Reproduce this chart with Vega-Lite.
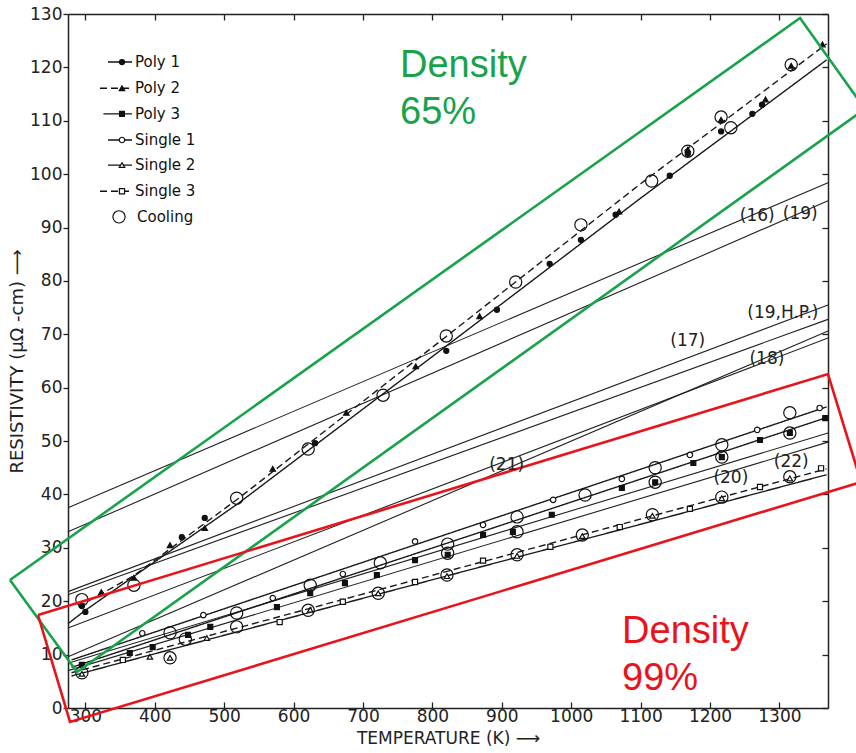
{
  "$schema": "https://vega.github.io/schema/vega-lite/v6.json",
  "width": 760,
  "height": 694,
  "autosize": {"type": "none"},
  "padding": {"left": 68, "top": 14, "right": 28, "bottom": 45},
  "background": "white",
  "config": {
    "view": {"stroke": null},
    "axis": {"grid": false, "domainColor": "#222", "tickColor": "#222", "labelColor": "#222", "titleColor": "#222", "domainWidth": 1.5, "tickWidth": 1.3, "labelFont": "DejaVu Sans", "titleFont": "DejaVu Sans", "titleFontWeight": "normal"}
  },
  "datasets": {
    "lit": [
      {"id": "16", "T": 275, "R": 37.5}, {"id": "16", "T": 1370, "R": 98.4},
      {"id": "19", "T": 275, "R": 33.0}, {"id": "19", "T": 1370, "R": 95.0},
      {"id": "19HP", "T": 275, "R": 21.8}, {"id": "19HP", "T": 1370, "R": 75.5},
      {"id": "17", "T": 275, "R": 21.2}, {"id": "17", "T": 1370, "R": 72.8},
      {"id": "18", "T": 275, "R": 15.0}, {"id": "18", "T": 1370, "R": 69.3},
      {"id": "21", "T": 275, "R": 9.6}, {"id": "21", "T": 1370, "R": 70.6},
      {"id": "20", "T": 275, "R": 8.4}, {"id": "20", "T": 1370, "R": 51.5},
      {"id": "22", "T": 275, "R": 7.0}, {"id": "22", "T": 1370, "R": 49.8}
    ],
    "fits": [
      {"s": "Poly 1", "T": 275, "R": 15.8}, {"s": "Poly 1", "T": 300, "R": 18.3}, {"s": "Poly 1", "T": 520, "R": 38.3}, {"s": "Poly 1", "T": 820, "R": 67.8}, {"s": "Poly 1", "T": 1100, "R": 95.5}, {"s": "Poly 1", "T": 1368, "R": 121.4},
      {"s": "Poly 2", "T": 290, "R": 19.0}, {"s": "Poly 2", "T": 370, "R": 24.8}, {"s": "Poly 2", "T": 520, "R": 39.2}, {"s": "Poly 2", "T": 820, "R": 69.6}, {"s": "Poly 2", "T": 1100, "R": 98.2}, {"s": "Poly 2", "T": 1368, "R": 124.4},
      {"s": "Poly 3", "T": 280, "R": 7.6}, {"s": "Poly 3", "T": 1368, "R": 54.4},
      {"s": "Single 1", "T": 280, "R": 9.0}, {"s": "Single 1", "T": 1368, "R": 56.4},
      {"s": "Single 2", "T": 280, "R": 6.0}, {"s": "Single 2", "T": 1368, "R": 43.7},
      {"s": "Single 3", "T": 280, "R": 6.6}, {"s": "Single 3", "T": 1368, "R": 44.8}
    ],
    "pts": [
      {"s": "Poly 1", "T": 295, "R": 19.1}, {"s": "Poly 1", "T": 300, "R": 18.0}, {"s": "Poly 1", "T": 439, "R": 32.0}, {"s": "Poly 1", "T": 472, "R": 35.6}, {"s": "Poly 1", "T": 631, "R": 49.6}, {"s": "Poly 1", "T": 820, "R": 66.9}, {"s": "Poly 1", "T": 893, "R": 74.6}, {"s": "Poly 1", "T": 969, "R": 83.2}, {"s": "Poly 1", "T": 1014, "R": 87.7}, {"s": "Poly 1", "T": 1064, "R": 92.4}, {"s": "Poly 1", "T": 1142, "R": 99.7}, {"s": "Poly 1", "T": 1168, "R": 103.8}, {"s": "Poly 1", "T": 1216, "R": 108.0}, {"s": "Poly 1", "T": 1261, "R": 111.3}, {"s": "Poly 1", "T": 1275, "R": 113.0},
      {"s": "Poly 2", "T": 323, "R": 21.7}, {"s": "Poly 2", "T": 370, "R": 24.4}, {"s": "Poly 2", "T": 422, "R": 30.5}, {"s": "Poly 2", "T": 472, "R": 33.7}, {"s": "Poly 2", "T": 570, "R": 44.8}, {"s": "Poly 2", "T": 676, "R": 55.3}, {"s": "Poly 2", "T": 776, "R": 64.0}, {"s": "Poly 2", "T": 868, "R": 73.4}, {"s": "Poly 2", "T": 1069, "R": 93.0}, {"s": "Poly 2", "T": 1168, "R": 104.6}, {"s": "Poly 2", "T": 1216, "R": 110.2}, {"s": "Poly 2", "T": 1280, "R": 114.0}, {"s": "Poly 2", "T": 1317, "R": 120.3}, {"s": "Poly 2", "T": 1362, "R": 124.3},
      {"s": "Poly 3", "T": 295, "R": 8.1}, {"s": "Poly 3", "T": 364, "R": 10.3}, {"s": "Poly 3", "T": 397, "R": 11.4}, {"s": "Poly 3", "T": 448, "R": 13.7}, {"s": "Poly 3", "T": 480, "R": 15.2}, {"s": "Poly 3", "T": 576, "R": 18.9}, {"s": "Poly 3", "T": 624, "R": 21.5}, {"s": "Poly 3", "T": 674, "R": 23.4}, {"s": "Poly 3", "T": 720, "R": 24.9}, {"s": "Poly 3", "T": 775, "R": 27.7}, {"s": "Poly 3", "T": 822, "R": 28.7}, {"s": "Poly 3", "T": 873, "R": 32.4}, {"s": "Poly 3", "T": 916, "R": 33.0}, {"s": "Poly 3", "T": 972, "R": 36.2}, {"s": "Poly 3", "T": 1073, "R": 41.2}, {"s": "Poly 3", "T": 1121, "R": 42.3}, {"s": "Poly 3", "T": 1176, "R": 45.9}, {"s": "Poly 3", "T": 1217, "R": 47.0}, {"s": "Poly 3", "T": 1272, "R": 50.2}, {"s": "Poly 3", "T": 1315, "R": 51.5}, {"s": "Poly 3", "T": 1366, "R": 54.3},
      {"s": "Single 1", "T": 382, "R": 14.0}, {"s": "Single 1", "T": 470, "R": 17.4}, {"s": "Single 1", "T": 570, "R": 20.6}, {"s": "Single 1", "T": 671, "R": 25.1}, {"s": "Single 1", "T": 775, "R": 31.2}, {"s": "Single 1", "T": 873, "R": 34.3}, {"s": "Single 1", "T": 974, "R": 39.0}, {"s": "Single 1", "T": 1073, "R": 42.9}, {"s": "Single 1", "T": 1171, "R": 47.4}, {"s": "Single 1", "T": 1268, "R": 52.1}, {"s": "Single 1", "T": 1358, "R": 56.2},
      {"s": "Single 2", "T": 295, "R": 6.4}, {"s": "Single 2", "T": 393, "R": 9.6}, {"s": "Single 2", "T": 422, "R": 9.4}, {"s": "Single 2", "T": 475, "R": 13.1}, {"s": "Single 2", "T": 624, "R": 18.4}, {"s": "Single 2", "T": 722, "R": 21.5}, {"s": "Single 2", "T": 821, "R": 24.7}, {"s": "Single 2", "T": 922, "R": 28.5}, {"s": "Single 2", "T": 1016, "R": 32.2}, {"s": "Single 2", "T": 1117, "R": 36.0}, {"s": "Single 2", "T": 1217, "R": 39.3}, {"s": "Single 2", "T": 1315, "R": 43.0},
      {"s": "Single 3", "T": 354, "R": 9.0}, {"s": "Single 3", "T": 580, "R": 16.1}, {"s": "Single 3", "T": 671, "R": 19.9}, {"s": "Single 3", "T": 775, "R": 23.6}, {"s": "Single 3", "T": 873, "R": 27.6}, {"s": "Single 3", "T": 970, "R": 30.2}, {"s": "Single 3", "T": 1070, "R": 33.9}, {"s": "Single 3", "T": 1171, "R": 37.3}, {"s": "Single 3", "T": 1272, "R": 41.4}, {"s": "Single 3", "T": 1360, "R": 44.9},
      {"s": "Cooling", "T": 295, "R": 20.3}, {"s": "Cooling", "T": 370, "R": 23.0}, {"s": "Cooling", "T": 518, "R": 39.3}, {"s": "Cooling", "T": 621, "R": 48.5}, {"s": "Cooling", "T": 729, "R": 58.6}, {"s": "Cooling", "T": 820, "R": 69.7}, {"s": "Cooling", "T": 920, "R": 79.8}, {"s": "Cooling", "T": 1014, "R": 90.5}, {"s": "Cooling", "T": 1116, "R": 98.7}, {"s": "Cooling", "T": 1168, "R": 104.3}, {"s": "Cooling", "T": 1216, "R": 110.7}, {"s": "Cooling", "T": 1230, "R": 108.7}, {"s": "Cooling", "T": 1317, "R": 120.5},
      {"s": "Cooling", "T": 295, "R": 6.6}, {"s": "Cooling", "T": 422, "R": 14.1}, {"s": "Cooling", "T": 444, "R": 12.9}, {"s": "Cooling", "T": 422, "R": 9.4}, {"s": "Cooling", "T": 518, "R": 17.8}, {"s": "Cooling", "T": 518, "R": 15.2}, {"s": "Cooling", "T": 624, "R": 23.0}, {"s": "Cooling", "T": 621, "R": 18.3}, {"s": "Cooling", "T": 725, "R": 27.2}, {"s": "Cooling", "T": 722, "R": 21.5}, {"s": "Cooling", "T": 822, "R": 30.7}, {"s": "Cooling", "T": 822, "R": 29.0}, {"s": "Cooling", "T": 821, "R": 24.9}, {"s": "Cooling", "T": 922, "R": 35.8}, {"s": "Cooling", "T": 922, "R": 33.0}, {"s": "Cooling", "T": 922, "R": 28.7}, {"s": "Cooling", "T": 1020, "R": 39.9}, {"s": "Cooling", "T": 1016, "R": 32.4}, {"s": "Cooling", "T": 1121, "R": 45.0}, {"s": "Cooling", "T": 1121, "R": 42.3}, {"s": "Cooling", "T": 1117, "R": 36.2}, {"s": "Cooling", "T": 1217, "R": 49.3}, {"s": "Cooling", "T": 1217, "R": 47.0}, {"s": "Cooling", "T": 1217, "R": 39.5}, {"s": "Cooling", "T": 1315, "R": 55.3}, {"s": "Cooling", "T": 1315, "R": 51.5}, {"s": "Cooling", "T": 1315, "R": 43.3}
    ],
    "boxes": [
      {"box": "g", "o": 1, "T": 191.4, "R": 23.98}, {"box": "g", "o": 2, "T": 1329.7, "R": 129.25}, {"box": "g", "o": 3, "T": 1423.3, "R": 112.2}, {"box": "g", "o": 4, "T": 288.0, "R": 6.74}, {"box": "g", "o": 5, "T": 191.4, "R": 23.98},
      {"box": "r", "o": 1, "T": 231.8, "R": 17.42}, {"box": "r", "o": 2, "T": 1370.0, "R": 62.56}, {"box": "r", "o": 3, "T": 1417.6, "R": 42.33}, {"box": "r", "o": 4, "T": 277.9, "R": -2.62}, {"box": "r", "o": 5, "T": 231.8, "R": 17.42}
    ],
    "ann": [
      {"box": "g", "txt": "Density", "T": 753.4, "R": 118.2},
      {"box": "g", "txt": "65%", "T": 753.4, "R": 109.4},
      {"box": "r", "txt": "Density", "T": 1073.3, "R": 12.18},
      {"box": "r", "txt": "99%", "T": 1073.3, "R": 3.37}
    ],
    "refs": [
      {"txt": "(16)", "T": 1268, "R": 92.2},
      {"txt": "(19)", "T": 1330, "R": 92.5},
      {"txt": "(19,H.P.)", "T": 1305, "R": 74.0},
      {"txt": "(17)", "T": 1168, "R": 68.7},
      {"txt": "(18)", "T": 1282, "R": 65.4},
      {"txt": "(21)", "T": 907, "R": 45.5},
      {"txt": "(20)", "T": 1230, "R": 43.1},
      {"txt": "(22)", "T": 1317, "R": 46.1}
    ],
    "leg": [
      {"s": "Poly 1", "y": 121.0, "x1": 332.6, "x2": 367.2, "xs": 352.8, "xt": 371.5},
      {"s": "Poly 2", "y": 116.1, "x1": 321.1, "x2": 367.2, "xs": 352.8, "xt": 371.5},
      {"s": "Poly 3", "y": 111.3, "x1": 326.0, "x2": 367.2, "xs": 352.8, "xt": 371.5},
      {"s": "Single 1", "y": 106.4, "x1": 332.6, "x2": 367.2, "xs": 352.8, "xt": 371.5},
      {"s": "Single 2", "y": 101.7, "x1": 332.6, "x2": 367.2, "xs": 352.8, "xt": 371.5},
      {"s": "Single 3", "y": 96.8, "x1": 321.1, "x2": 367.2, "xs": 352.8, "xt": 371.5},
      {"s": "Cooling", "y": 92.0, "xs": 348.5, "xt": 374.4}
    ]
  },
  "resolve": {"axis": {"x": "independent", "y": "independent"}},
  "layer": [
    {
      "data": {"name": "lit"},
      "mark": {"type": "line", "stroke": "#222", "strokeWidth": 1.1},
      "encoding": {
        "x": {"field": "T", "type": "quantitative", "scale": {"domain": [275, 1370], "nice": false, "zero": false},
          "axis": {"values": [300, 400, 500, 600, 700, 800, 900, 1000, 1100, 1200, 1300], "format": "d", "tickSize": -6, "labelPadding": 6, "labelFontSize": 17, "title": "TEMPERATURE (K) ⟶", "titleFontSize": 17, "titlePadding": 6}},
        "y": {"field": "R", "type": "quantitative", "scale": {"domain": [0, 130], "nice": false, "zero": false},
          "axis": {"values": [0, 10, 20, 30, 40, 50, 60, 70, 80, 90, 100, 110, 120, 130], "format": "d", "tickSize": 5, "labelPadding": 1, "labelFontSize": 17, "title": "RESISTIVITY (μΩ -cm) ⟶", "titleFontSize": 18, "titlePadding": 3}},
        "detail": {"field": "id"}
      }
    },
    {
      "data": {"name": "fits"},
      "mark": {"type": "line", "stroke": "#1a1a1a", "strokeWidth": 1.4},
      "encoding": {
        "x": {"field": "T", "type": "quantitative", "axis": {"orient": "top", "labels": false, "title": null, "tickSize": -6, "values": [300, 400, 500, 600, 700, 800, 900, 1000, 1100, 1200, 1300]}},
        "y": {"field": "R", "type": "quantitative", "axis": {"orient": "right", "labels": false, "title": null, "tickSize": -6, "values": [0, 10, 20, 30, 40, 50, 60, 70, 80, 90, 100, 110, 120, 130]}},
        "detail": {"field": "s"},
        "strokeDash": {"field": "s", "type": "nominal", "legend": null,
          "scale": {"domain": ["Poly 1", "Poly 2", "Poly 3", "Single 1", "Single 2", "Single 3"], "range": [[1, 0], [7, 4], [1, 0], [1, 0], [1, 0], [7, 4]]}}
      }
    },
    {
      "data": {"name": "pts"},
      "mark": {"type": "point", "stroke": "#111", "strokeWidth": 1.2, "opacity": 1},
      "encoding": {
        "x": {"field": "T", "type": "quantitative", "axis": null},
        "y": {"field": "R", "type": "quantitative", "axis": null},
        "shape": {"field": "s", "type": "nominal", "legend": null,
          "scale": {"domain": ["Poly 1", "Poly 2", "Poly 3", "Single 1", "Single 2", "Single 3", "Cooling"], "range": ["circle", "triangle-up", "square", "circle", "triangle-up", "square", "circle"]}},
        "fill": {"field": "s", "type": "nominal", "legend": null,
          "scale": {"domain": ["Poly 1", "Poly 2", "Poly 3", "Single 1", "Single 2", "Single 3", "Cooling"], "range": ["#111", "#111", "#111", "white", "white", "white", "transparent"]}},
        "size": {"field": "s", "type": "nominal", "legend": null,
          "scale": {"type": "ordinal", "domain": ["Poly 1", "Poly 2", "Poly 3", "Single 1", "Single 2", "Single 3", "Cooling"], "range": [26, 30, 24, 30, 30, 26, 150]}}
      }
    },
    {
      "data": {"name": "boxes"},
      "mark": {"type": "line", "strokeWidth": 2.6, "clip": false},
      "encoding": {
        "x": {"field": "T", "type": "quantitative", "axis": null},
        "y": {"field": "R", "type": "quantitative", "axis": null},
        "order": {"field": "o", "type": "quantitative"},
        "detail": {"field": "box"},
        "color": {"field": "box", "type": "nominal", "legend": null, "scale": {"domain": ["g", "r"], "range": ["#17a34a", "#e8141c"]}}
      }
    },
    {
      "data": {"name": "ann"},
      "mark": {"type": "text", "align": "left", "baseline": "alphabetic", "font": "Liberation Sans", "fontSize": 38},
      "encoding": {
        "x": {"field": "T", "type": "quantitative", "axis": null},
        "y": {"field": "R", "type": "quantitative", "axis": null},
        "text": {"field": "txt"},
        "color": {"field": "box", "type": "nominal", "legend": null}
      }
    },
    {
      "data": {"name": "refs"},
      "mark": {"type": "text", "align": "center", "baseline": "middle", "font": "DejaVu Sans", "fontSize": 17, "color": "#222"},
      "encoding": {
        "x": {"field": "T", "type": "quantitative", "axis": null},
        "y": {"field": "R", "type": "quantitative", "axis": null},
        "text": {"field": "txt"}
      }
    },
    {
      "data": {"name": "leg"},
      "transform": [{"filter": "datum.x1 != null"}],
      "mark": {"type": "rule", "stroke": "#111", "strokeWidth": 1.4},
      "encoding": {
        "x": {"field": "x1", "type": "quantitative", "axis": null},
        "x2": {"field": "x2"},
        "y": {"field": "y", "type": "quantitative", "axis": null},
        "strokeDash": {"field": "s", "type": "nominal", "legend": null}
      }
    },
    {
      "data": {"name": "leg"},
      "mark": {"type": "point", "stroke": "#111", "strokeWidth": 1.2, "opacity": 1},
      "encoding": {
        "x": {"field": "xs", "type": "quantitative", "axis": null},
        "y": {"field": "y", "type": "quantitative", "axis": null},
        "shape": {"field": "s", "type": "nominal", "legend": null,
          "scale": {"domain": ["Poly 1", "Poly 2", "Poly 3", "Single 1", "Single 2", "Single 3", "Cooling"], "range": ["circle", "triangle-up", "square", "circle", "triangle-up", "square", "circle"]}},
        "fill": {"field": "s", "type": "nominal", "legend": null,
          "scale": {"domain": ["Poly 1", "Poly 2", "Poly 3", "Single 1", "Single 2", "Single 3", "Cooling"], "range": ["#111", "#111", "#111", "white", "white", "white", "transparent"]}},
        "size": {"field": "s", "type": "nominal", "legend": null,
          "scale": {"type": "ordinal", "domain": ["Poly 1", "Poly 2", "Poly 3", "Single 1", "Single 2", "Single 3", "Cooling"], "range": [26, 30, 24, 30, 30, 26, 150]}}
      }
    },
    {
      "data": {"name": "leg"},
      "mark": {"type": "text", "align": "left", "baseline": "middle", "font": "DejaVu Sans", "fontSize": 15, "color": "#111"},
      "encoding": {
        "x": {"field": "xt", "type": "quantitative", "axis": null},
        "y": {"field": "y", "type": "quantitative", "axis": null},
        "text": {"field": "s"}
      }
    }
  ]
}
